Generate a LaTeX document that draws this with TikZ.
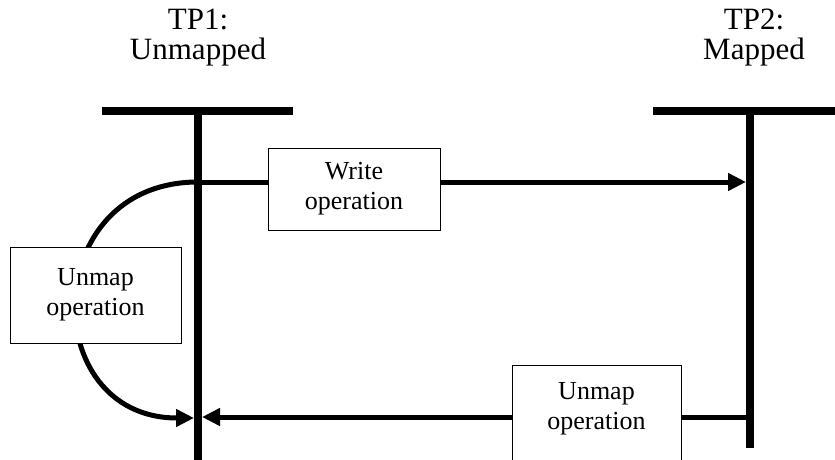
\documentclass[tikz,border=0pt]{standalone}
\usepackage{fontspec}
\setmainfont{Liberation Serif}
\usetikzlibrary{arrows.meta}
\begin{document}
\begin{tikzpicture}[x=1pt,y=1pt,
  lifeline/.style={line width=8.5pt},
  msg/.style={line width=5pt, -{Triangle[length=18pt,width=17pt]}},
  opbox/.style={draw, line width=0.8pt, fill=white, inner sep=0pt},
  optext/.style={align=center, font=\fontsize{26}{30}\selectfont, inner sep=0pt},
  title/.style={align=center, font=\fontsize{31}{30}\selectfont, inner sep=0pt}]
\useasboundingbox (0,0) rectangle (835,-460);
\clip (0,0) rectangle (835,-460);

% lifeline anchor points
\coordinate (tp1top) at (198,-111);
\coordinate (tp1bot) at (198,-470);
\coordinate (tp2top) at (750,-111);
\coordinate (tp2bot) at (750,-448);
\coordinate (tp1barL) at (102,-111);
\coordinate (tp1barR) at (293,-111);
\coordinate (tp2barL) at (653,-111);
\coordinate (tp2barR) at (845,-111);

% message end points on the lifelines
\coordinate (wfrom) at (198,-182);
\coordinate (wto) at (746,-182);
\coordinate (ufrom) at (750,-417);
\coordinate (uto) at (202,-417);
\coordinate (selfto) at (194,-418);

% titles
\node[title] (tp1lbl) at (198,-38) {TP1:\\Unmapped};
\node[title] (tp2lbl) at (754,-38) {TP2:\\Mapped};

% lifelines
\draw[lifeline] (tp1barL) -- (tp1barR);
\draw[lifeline] (tp1top) -- (tp1bot);
\draw[lifeline] (tp2barL) -- (tp2barR);
\draw[lifeline] (tp2top) -- (tp2bot);

% messages
\draw[msg] (wfrom) -- (wto);
\draw[msg] (ufrom) -- (uto);
\draw[msg] (wfrom) .. controls +(-160,0) and +(-157,0) .. (selfto);

% operation boxes
\node[opbox, minimum width=172pt, minimum height=82pt] (wbox) at (354,-189) {};
\node[optext] (wtxt) at (wbox.center) {Write\\operation};

\node[opbox, minimum width=171pt, minimum height=96pt] (lbox) at (95.5,-295) {};
\node[optext] (ltxt) at (lbox.center) {Unmap\\operation};

\node[opbox, minimum width=169pt, minimum height=110pt] (bbox) at (596.5,-420) {};
\node[optext] (btxt) at (596.5,-409) {Unmap\\operation};
\end{tikzpicture}
\end{document}
